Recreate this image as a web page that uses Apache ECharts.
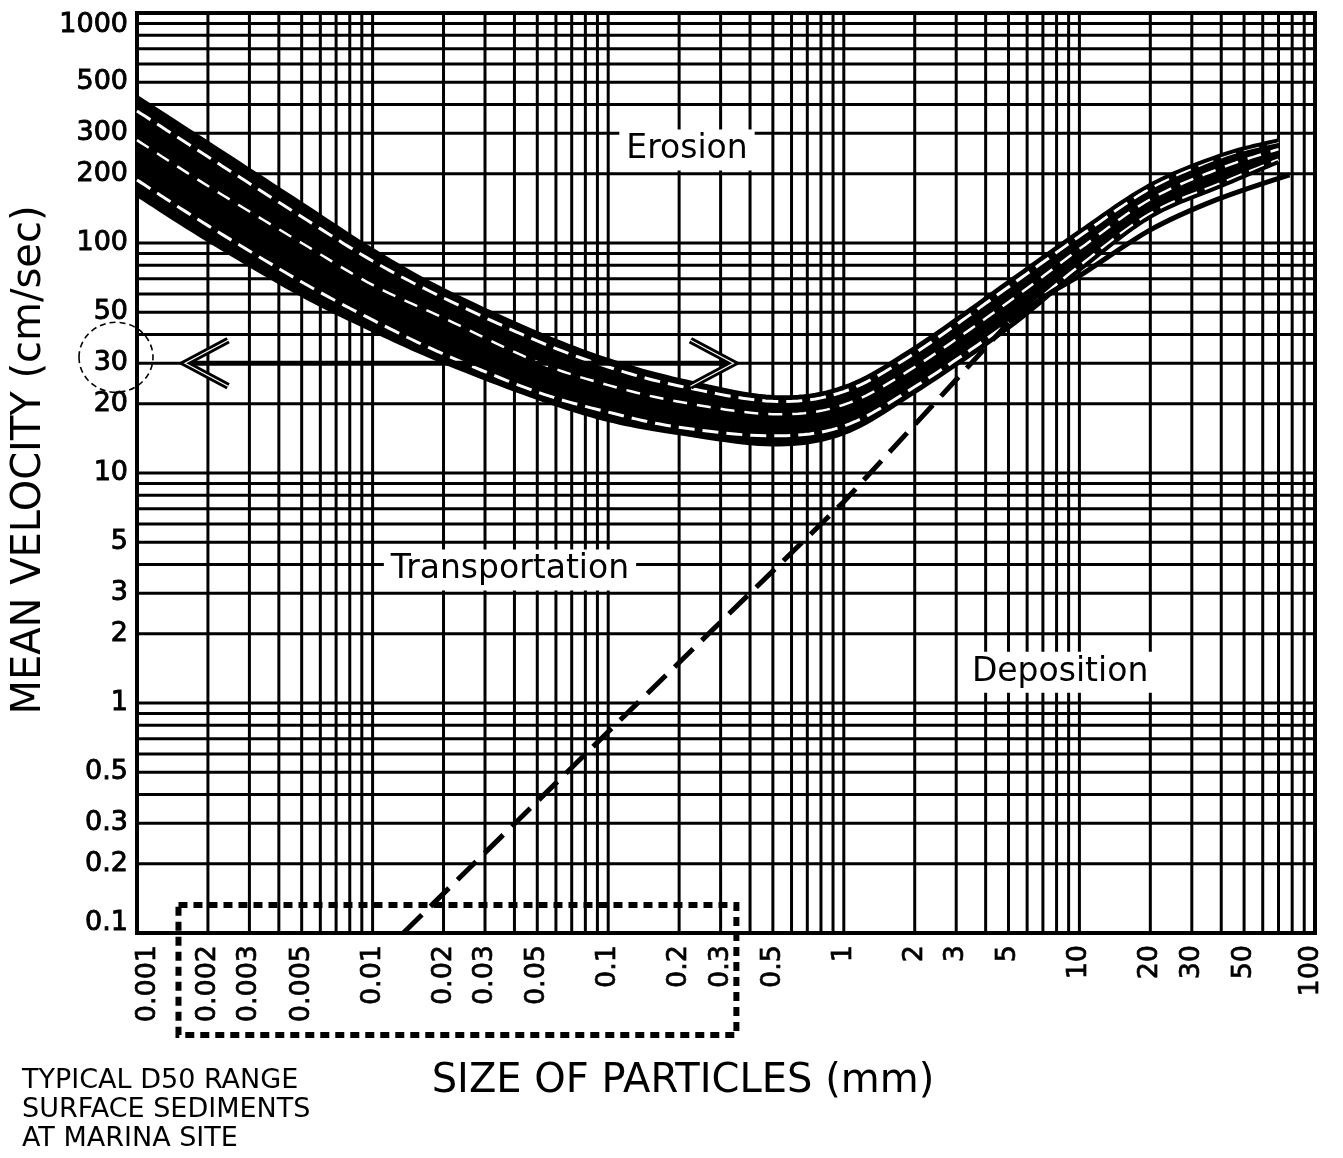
<!DOCTYPE html>
<html>
<head>
<meta charset="utf-8">
<title>Erosion, transportation and deposition of particles</title>
<script src="https://cdn.jsdelivr.net/npm/echarts/dist/echarts.min.js"></script>
<style>
  html, body { margin: 0; padding: 0; background: #fff; }
  #chart { width: 1343px; height: 1158px; }
</style>
</head>
<body>
<div id="chart"></div>
<script>
// ---- Axis ranges and tick labels ----
const SIZE_MIN = 0.001, SIZE_MAX = 100;        // particle size, mm
const VEL_MIN = 0.1, VEL_MAX = 1000;           // mean velocity, cm/sec

const sizeTicks = [0.001, 0.002, 0.003, 0.005, 0.01, 0.02, 0.03, 0.05, 0.1, 0.2, 0.3, 0.5, 1, 2, 3, 5, 10, 20, 30, 50, 100];
const sizeTickLabels = ['0.001', '0.002', '0.003', '0.005', '0.01', '0.02', '0.03', '0.05', '0.1', '0.2', '0.3', '0.5', '1', '2', '3', '5', '10', '20', '30', '50', '100'];
const velocityTicks = [0.1, 0.2, 0.3, 0.5, 1, 2, 3, 5, 10, 20, 30, 50, 100, 200, 300, 500, 1000];
const velocityTickLabels = ['0.1', '0.2', '0.3', '0.5', '1', '2', '3', '5', '10', '20', '30', '50', '100', '200', '300', '500', '1000'];

// ---- Erosion band (bundle of curves), velocity in cm/sec at each size ----
const bandSize        = [0.001, 0.002, 0.005, 0.01, 0.02, 0.05, 0.1, 0.2, 0.5, 1, 2, 5, 10, 20, 40, 70];
const erosionTop      = [431, 272, 148, 93.2, 62.5, 40.6, 31.0, 25.4, 21.4, 23.6, 35.0, 67.7, 112, 179, 241, 280];
const erosionGapUpper = [375, 237, 130, 83.5, 57.7, 37.5, 28.9, 23.9, 20.5, 22.6, 33.2, 64.4, 107, 173, 237, 277];
const erosionGapCore  = [280, 177, 100, 65.7, 47.2, 30.4, 24.1, 20.4, 18.0, 19.8, 28.9, 55.4, 94.2, 155, 212, 256];
const erosionGapLower = [188, 119, 67.7, 46.3, 32.9, 22.5, 18.4, 15.8, 14.5, 16.0, 23.7, 44.9, 79.4, 134, 182, 230];
const erosionBottom   = [162, 103, 59.4, 41.8, 30.4, 21.2, 17.0, 14.9, 13.3, 14.9, 22.5, 42.7, 76.3, 130, 177, 225];

// ---- Settling (deposition) boundary: dashed part, then solid part ----
const settlingSize     = [0.0135, 0.1, 1, 5];
const settlingVelocity = [0.1, 0.75, 7.5, 45];
const depositionSize     = [5, 7.5, 10, 20, 38, 78];
const depositionVelocity = [45.4, 60.6, 71.9, 114, 154, 198];

// ---- Marina site annotations ----
const d50Range = [0.0015, 0.35];       // boxed size labels
const arrowSize = [0.0016, 0.34];      // horizontal arrow span
const arrowVelocity = 30;              // circled velocity
const regionNames = ['Erosion', 'Transportation', 'Deposition'];
const regionSize = [0.216, 0.0383, 8.28];
const regionVelocity = [254, 3.79, 1.36];

// ---- Log-paper grid lines (1..9 in every decade) ----
const mantissas = [1, 2, 3, 4, 5, 6, 7, 8, 9];
function decadeLines(min, max) {
  const out = [];
  for (let d = min; d < max * 0.999; d *= 10) {
    mantissas.forEach(m => out.push(+(m * d).toPrecision(6)));
  }
  out.push(max);
  return out;
}
const sizeGrid = decadeLines(SIZE_MIN, SIZE_MAX);
const velocityGrid = decadeLines(VEL_MIN, VEL_MAX);

const FONT = '"DejaVu Sans", "Liberation Sans", sans-serif';
const BLACK = '#000';

function textStyle(obj) {
  // set both the zrender and the legacy alignment names
  if (obj.align) obj.textAlign = obj.align;
  if (obj.verticalAlign) obj.textVerticalAlign = obj.verticalAlign;
  return obj;
}

// Catmull-Rom pass through projected points so the drawn curves are smooth
function smoothPath(pts, steps) {
  const out = [];
  for (let i = 0; i < pts.length - 1; i++) {
    const p0 = pts[i - 1] || pts[i], p1 = pts[i], p2 = pts[i + 1], p3 = pts[i + 2] || pts[i + 1];
    for (let s = 0; s < steps; s++) {
      const t = s / steps, t2 = t * t, t3 = t2 * t;
      out.push([0, 1].map(k => 0.5 * ((2 * p1[k]) + (-p0[k] + p2[k]) * t +
        (2 * p0[k] - 5 * p1[k] + 4 * p2[k] - p3[k]) * t2 + (-p0[k] + 3 * p1[k] - 3 * p2[k] + p3[k]) * t3)));
    }
  }
  out.push(pts[pts.length - 1].slice());
  return out;
}

function gridLineSeries(values, vertical) {
  return {
    type: 'custom', silent: true, clip: false, z: 1,
    data: values.map(v => vertical ? [v, VEL_MIN] : [SIZE_MIN, v]),
    renderItem(params, api) {
      const a = vertical ? api.coord([api.value(0), VEL_MIN]) : api.coord([SIZE_MIN, api.value(1)]);
      const b = vertical ? api.coord([api.value(0), VEL_MAX]) : api.coord([SIZE_MAX, api.value(1)]);
      return {
        type: 'line',
        shape: { x1: a[0], y1: a[1], x2: b[0], y2: b[1] },
        style: { stroke: BLACK, lineWidth: 3 }
      };
    }
  };
}

function pairs(xs, ys) { return xs.map((x, i) => [x, ys[i]]); }

const chart = echarts.init(document.getElementById('chart'));

chart.setOption({
  animation: false,
  backgroundColor: '#fff',
  grid: { left: 137, top: 13, width: 1178, height: 920, show: true, borderColor: BLACK, borderWidth: 4, backgroundColor: 'transparent' },
  xAxis: {
    type: 'log', logBase: 10, min: SIZE_MIN, max: SIZE_MAX,
    axisLine: { show: false }, axisTick: { show: false }, axisLabel: { show: false }, splitLine: { show: false }
  },
  yAxis: {
    type: 'log', logBase: 10, min: VEL_MIN, max: VEL_MAX,
    axisLine: { show: false }, axisTick: { show: false }, axisLabel: { show: false }, splitLine: { show: false }
  },
  series: [
    gridLineSeries(sizeGrid, true),
    gridLineSeries(velocityGrid, false),

    // the erosion band: black body, white gaps between its curves, outer curves
    {
      type: 'custom', silent: true, clip: false, z: 3,
      data: pairs(bandSize, erosionTop),
      renderItem(params, api) {
        if (params.dataIndex !== 0) return null;
        const curve = vals => smoothPath(bandSize.map((s, i) => api.coord([s, vals[i]])), 12);
        const top = curve(erosionTop), bottom = curve(erosionBottom);
        const body = top.concat(bottom.slice().reverse());
        const gap = (vals, w, dash) => ({
          type: 'polyline', shape: { points: curve(vals) },
          style: { stroke: '#fff', fill: null, lineWidth: w, lineDash: dash }
        });
        const edge = pts => ({
          type: 'polyline', shape: { points: pts },
          style: { stroke: BLACK, fill: null, lineWidth: 4 }
        });
        return {
          type: 'group',
          children: [
            { type: 'polygon', shape: { points: body }, style: { fill: BLACK } },
            gap(erosionGapUpper, 3, [16, 8]),
            gap(erosionGapCore, 2.5, [14, 10]),
            gap(erosionGapLower, 3, [16, 8]),
            edge(top),
            edge(bottom)
          ]
        };
      }
    },

    // settling boundary, dashed
    {
      type: 'line', silent: true, z: 5, symbol: 'none',
      data: pairs(settlingSize, settlingVelocity),
      lineStyle: { color: BLACK, width: 5, type: [26, 12], cap: 'butt' }
    },
    // deposition boundary for coarse particles, solid
    {
      type: 'line', silent: true, z: 5, symbol: 'none', smooth: 0.3,
      data: pairs(depositionSize, depositionVelocity),
      lineStyle: { color: BLACK, width: 5 }
    },

    // double-headed arrow at the circled velocity
    {
      type: 'custom', silent: true, clip: false, z: 6,
      data: [[arrowSize[0], arrowVelocity], [arrowSize[1], arrowVelocity]],
      renderItem(params, api) {
        if (params.dataIndex !== 0) return null;
        const a = api.coord([arrowSize[0], arrowVelocity]);
        const b = api.coord([arrowSize[1], arrowVelocity]);
        const head = (tip, dir) => {
          const pts = [[tip[0] + dir * 43, tip[1] - 23], [tip[0], tip[1]], [tip[0] + dir * 43, tip[1] + 23]];
          return [
            { type: 'polyline', shape: { points: pts }, style: { stroke: BLACK, fill: null, lineWidth: 7, lineJoin: 'miter' } },
            { type: 'polyline', shape: { points: pts.map(p => p.slice()) }, style: { stroke: '#fff', fill: null, lineWidth: 1.2 } }
          ];
        };
        return {
          type: 'group',
          children: [
            { type: 'line', shape: { x1: a[0] + 4, y1: a[1], x2: b[0] - 4, y2: b[1] }, style: { stroke: BLACK, lineWidth: 5 } }
          ].concat(head(a, 1), head(b, -1))
        };
      }
    },

    // region names
    {
      type: 'custom', silent: true, clip: false, z: 7,
      data: regionNames.map((n, i) => [regionSize[i], regionVelocity[i], i]),
      renderItem(params, api) {
        const i = api.value(2);
        const p = api.coord([api.value(0), api.value(1)]);
        return {
          type: 'text', x: p[0], y: p[1],
          style: textStyle({
            text: regionNames[i], fill: BLACK, font: '33px ' + FONT,
            align: 'center', verticalAlign: 'middle',
            backgroundColor: '#fff', padding: [4, 7], textBackgroundColor: '#fff', textPadding: [4, 7]
          })
        };
      }
    },

    // velocity tick labels (with the circled value)
    {
      type: 'custom', silent: true, clip: false, z: 8,
      data: velocityTicks.map((v, i) => [SIZE_MIN, v, i]),
      renderItem(params, api) {
        const i = api.value(2);
        const v = api.value(1);
        const p = api.coord([SIZE_MIN, v]);
        let va = 'middle', dy = 0;
        if (i === velocityTicks.length - 1) { va = 'top'; dy = -2; }
        if (i === 0) { va = 'bottom'; dy = 3; }
        const children = [{
          type: 'text', x: p[0] - 9, y: p[1] + dy,
          style: textStyle({ text: velocityTickLabels[i], fill: BLACK, stroke: BLACK, lineWidth: 0.9, font: '27px ' + FONT, align: 'right', verticalAlign: va })
        }];
        if (v === arrowVelocity) {
          children.push({
            type: 'ellipse', shape: { cx: p[0] - 21, cy: p[1] - 6, rx: 37, ry: 35 },
            style: { fill: null, stroke: BLACK, lineWidth: 1.6, lineDash: [6, 4] }
          });
        }
        return { type: 'group', children: children };
      }
    },

    // size tick labels, rotated
    {
      type: 'custom', silent: true, clip: false, z: 8,
      data: sizeTicks.map((s, i) => [s, VEL_MIN, i]),
      renderItem(params, api) {
        const i = api.value(2);
        const p = api.coord([api.value(0), VEL_MIN]);
        let dx = 0;
        if (i === 0) dx = 11;
        if (i === sizeTicks.length - 1) dx = -4;
        return {
          type: 'text', x: p[0] + dx, y: p[1] + 12, rotation: Math.PI / 2,
          style: textStyle({ text: sizeTickLabels[i], fill: BLACK, stroke: BLACK, lineWidth: 0.7, font: '27px ' + FONT, align: 'right', verticalAlign: 'middle' })
        };
      }
    },

    // dotted box around the typical D50 size range
    {
      type: 'custom', silent: true, clip: false, z: 9,
      data: [[d50Range[0], VEL_MIN], [d50Range[1], VEL_MIN]],
      renderItem(params, api) {
        if (params.dataIndex !== 0) return null;
        const a = api.coord([d50Range[0], VEL_MIN]);
        const b = api.coord([d50Range[1], VEL_MIN]);
        return {
          type: 'rect',
          shape: { x: a[0], y: a[1] - 28, width: b[0] - a[0], height: 130 },
          style: { fill: null, stroke: BLACK, lineWidth: 6, lineDash: [9, 6] }
        };
      }
    }
  ],
  graphic: [
    {
      type: 'text', x: 30, y: 460, rotation: Math.PI / 2,
      style: textStyle({ text: 'MEAN VELOCITY (cm/sec)', fill: BLACK, font: '40px ' + FONT, align: 'center', verticalAlign: 'middle' })
    },
    {
      type: 'text', x: 683, y: 1082,
      style: textStyle({ text: 'SIZE OF PARTICLES (mm)', fill: BLACK, font: '40px ' + FONT, align: 'center', verticalAlign: 'middle' })
    },
    {
      type: 'text', x: 22, y: 1066,
      style: textStyle({ text: 'TYPICAL D50 RANGE\nSURFACE SEDIMENTS\nAT MARINA SITE', fill: BLACK, font: '27px ' + FONT, lineHeight: 29, align: 'left', verticalAlign: 'top' })
    }
  ]
});
</script>
</body>
</html>
